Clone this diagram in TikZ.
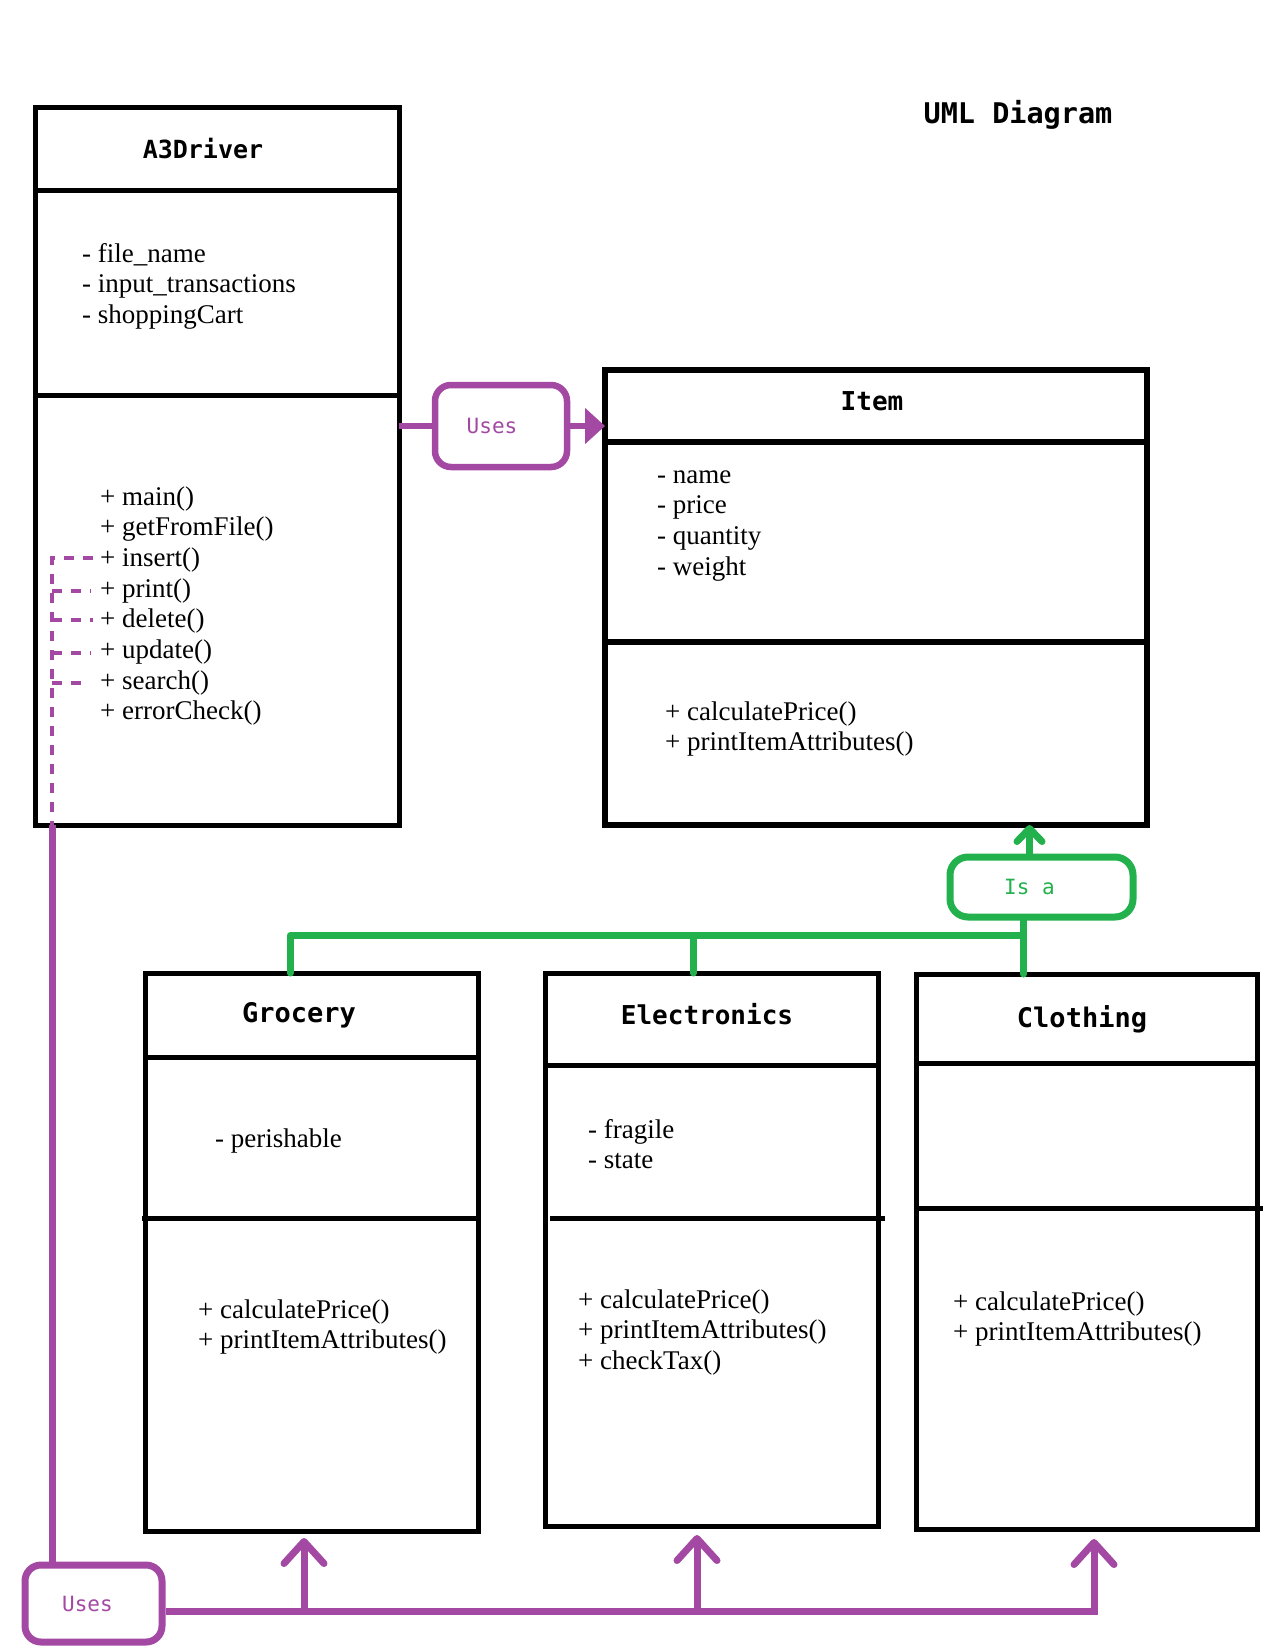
\documentclass[tikz,border=0pt]{standalone}
\usepackage{fontspec}
\setmainfont{Liberation Serif}
\newfontfamily\codefont{DejaVu Sans Mono}
\usetikzlibrary{arrows.meta,calc}
\definecolor{usepurple}{HTML}{A349A4}
\definecolor{isagreen}{HTML}{22B14C}

\begin{document}
\begin{tikzpicture}[x=1pt,y=-1pt,
  classbox/.style={draw=black,line width=5pt,inner sep=0pt,outer sep=0pt,anchor=north west},
  divider/.style={draw=black,line width=5pt},
  classtitle/.style={font=\codefont\bfseries\fontsize{26}{30}\selectfont,anchor=base,inner sep=0pt},
  % multi-line member lists are placed by the baseline of their last line
  members/.style={font=\fontsize{27}{30.7}\selectfont,anchor=base west,align=left,inner sep=0pt},
  usesbox/.style={draw=usepurple,line width=6.5pt,rounded corners=16pt,inner sep=0pt,
    text=usepurple,font=\codefont\fontsize{21}{24}\selectfont},
  isabox/.style={draw=isagreen,line width=7pt,rounded corners=18pt,inner sep=0pt,
    text=isagreen,font=\codefont\fontsize{21}{24}\selectfont},
  purpleline/.style={draw=usepurple,line width=7pt},
  purpledash/.style={draw=usepurple,line width=3.5pt,dash pattern=on 10pt off 9pt},
  greenline/.style={draw=isagreen,line width=7pt,line cap=round,line join=round},
  openhead/.style={-{Straight Barb[length=22pt,width=40pt,round]}},
  smallhead/.style={-{Straight Barb[length=13pt,width=25pt,round]}},
  solidhead/.style={-{Triangle[length=20pt,width=35pt]}}
]
\useasboundingbox (0,0) rectangle (1272,1650);
\fill[white] (0,0) rectangle (1272,1650);

% heading
\node[font=\codefont\bfseries\fontsize{28.5}{32}\selectfont,anchor=base,inner sep=0pt] (heading) at (1018,123) {UML Diagram};

% ---------- A3Driver ----------
\node[classbox,minimum width=364pt,minimum height=718pt] (a3) at (35,107) {};
\draw[divider] ($(a3.north west)+(0,83)$) -- ($(a3.north east)+(0,83)$);
\draw[divider] ($(a3.north west)+(0,288)$) -- ($(a3.north east)+(0,288)$);
\node[classtitle,font=\codefont\bfseries\fontsize{25}{30}\selectfont] (a3title) at (203,158) {A3Driver};
\node[members] (a3attrs) at (82,323.4) {- file\_name\\- input\_transactions\\- shoppingCart};
\node[members] (a3ops) at (100,719.9) {+ main()\\+ getFromFile()\\+ insert()\\+ print()\\+ delete()\\+ update()\\+ search()\\+ errorCheck()};

% ---------- Item ----------
\node[classbox,line width=6.5pt,minimum width=542pt,minimum height=455pt] (item) at (605,370) {};
\draw[divider,line width=6pt] ($(item.north west)+(0,72)$) -- ($(item.north east)+(0,72)$);
\draw[divider,line width=6pt] ($(item.north west)+(0,272)$) -- ($(item.north east)+(0,272)$);
\node[classtitle] (itemtitle) at (872,410) {Item};
\node[members] (itemattrs) at (657,575.1) {- name\\- price\\- quantity\\- weight};
\node[members] (itemops) at (665,750.7) {+ calculatePrice()\\+ printItemAttributes()};

% ---------- Grocery ----------
\node[classbox,minimum width=333pt,minimum height=558pt] (grocery) at (145,973) {};
\draw[divider] ($(grocery.north west)+(0,84)$) -- ($(grocery.north east)+(0,84)$);
\draw[divider] ($(grocery.north west)+(-3,245)$) -- ($(grocery.north east)+(0,245)$);
\node[classtitle,font=\codefont\bfseries\fontsize{27}{30}\selectfont] (grocerytitle) at (299,1022) {Grocery};
\node[members] (groceryattrs) at (215,1147) {- perishable};
\node[members] (groceryops) at (198,1348.7) {+ calculatePrice()\\+ printItemAttributes()};

% ---------- Electronics ----------
\node[classbox,minimum width=333pt,minimum height=553pt] (electronics) at (545,973) {};
\draw[divider] ($(electronics.north west)+(0,92)$) -- ($(electronics.north east)+(0,92)$);
\draw[divider] ($(electronics.north west)+(5,245)$) -- ($(electronics.north east)+(7,245)$);
\node[classtitle] (electronicstitle) at (707,1024) {Electronics};
\node[members] (electronicsattrs) at (588,1168.7) {- fragile\\- state};
\node[members] (electronicsops) at (578,1369.4) {+ calculatePrice()\\+ printItemAttributes()\\+ checkTax()};

% ---------- Clothing ----------
\node[classbox,minimum width=341pt,minimum height=555pt] (clothing) at (916,974) {};
\draw[divider] ($(clothing.north west)+(0,89)$) -- ($(clothing.north east)+(0,89)$);
\draw[divider] ($(clothing.north west)+(0,234)$) -- ($(clothing.north east)+(6,234)$);
\node[classtitle,font=\codefont\bfseries\fontsize{27}{30}\selectfont] (clothingtitle) at (1082,1027) {Clothing};
\node[members] (clothingops) at (953,1340.7) {+ calculatePrice()\\+ printItemAttributes()};

% ---------- A3Driver uses Item ----------
\node[usesbox,minimum width=132pt,minimum height=82pt] (usesitem) at (501,426) {Uses\hspace*{18pt}};
\draw[purpleline,line width=6.5pt] (a3.east |- usesitem.west) -- (usesitem.west);
\draw[purpleline,line width=6.5pt,solidhead] (usesitem.east) -- (item.west |- usesitem.east);

% ---------- dashed ties from the operations ----------
\coordinate (trunk) at (52,558);
\coordinate (dinsert) at (93,558);
\coordinate (dprint) at (91,591);
\coordinate (ddelete) at (93,620);
\coordinate (dupdate) at (91,653);
\coordinate (dsearch) at (89,683);
\draw[purpledash] (dinsert) -- (trunk) -- (trunk |- a3.south);
\foreach \d in {dprint,ddelete,dupdate,dsearch}
  \draw[purpledash] (trunk |- \d) -- (\d);

% ---------- A3Driver uses the item kinds ----------
\node[usesbox,line width=7pt,minimum width=137pt,minimum height=77pt] (usesall) at (93.5,1603.5) {Uses\hspace*{12pt}};
\draw[purpleline] (trunk |- a3.south) -- (trunk |- usesall.north);
\coordinate (bus) at (0,1611);
\coordinate (gtip) at (304,1538);
\coordinate (etip) at (697,1535);
\coordinate (ctip) at (1094,1539);
\draw[purpleline,openhead] (usesall.east |- bus) -- (ctip |- bus) -- (ctip);
\draw[purpleline,openhead] (gtip |- bus) -- (gtip);
\draw[purpleline,openhead] (etip |- bus) -- (etip);

% ---------- inheritance: Is a ----------
\node[isabox,minimum width=183pt,minimum height=60pt] (isa) at (1041.5,887) {Is a\hspace*{24pt}};
\coordinate (isaout) at ($(isa.north)+(-12,0)$);
\coordinate (isain) at ($(isa.south)+(-18,0)$);
\coordinate (hub) at ($(isain)+(0,15)$);
\coordinate (gin) at ($(grocery.north west)+(145,0)$);
\coordinate (ein) at ($(electronics.north west)+(148,0)$);
\draw[greenline,smallhead] (isaout) -- (isaout |- item.south);
\draw[greenline] (isain) -- (isain |- clothing.north);
\draw[greenline] (gin) |- (hub);
\draw[greenline] (ein) -- (ein |- hub);
\end{tikzpicture}
\end{document}
